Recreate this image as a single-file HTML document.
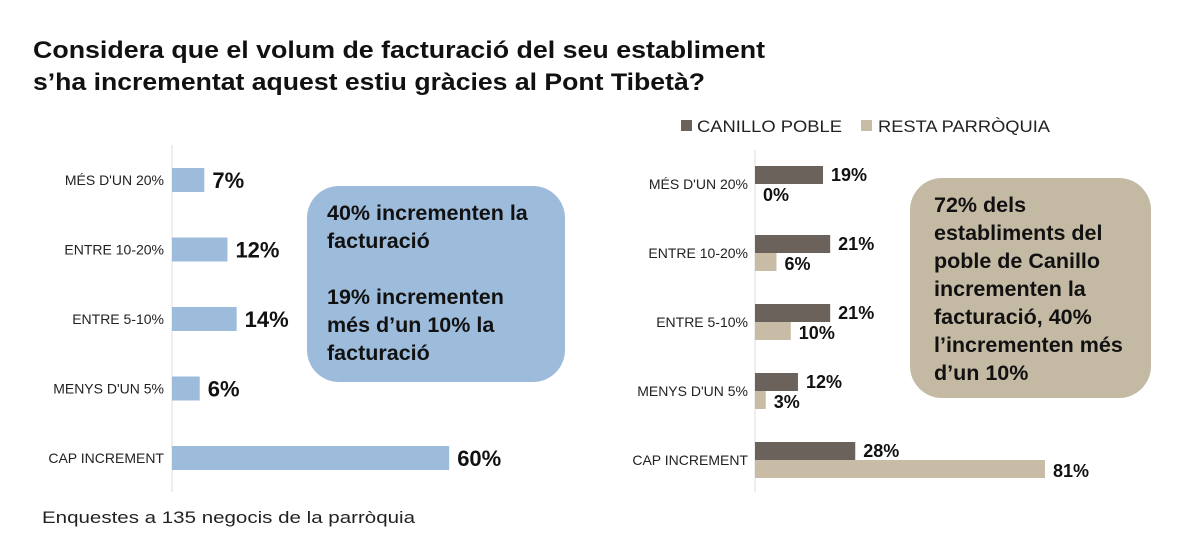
<!DOCTYPE html>
<html><head><meta charset="utf-8"><style>
body{margin:0;background:#fff;width:1200px;height:557px;overflow:hidden}
svg{display:block;font-family:"Liberation Sans",sans-serif}
</style></head><body>
<svg id="c" width="1200" height="557">
<text x="33" y="58" font-size="24" font-weight="bold" fill="#111" textLength="732" lengthAdjust="spacingAndGlyphs">Considera que el volum de facturació del seu establiment</text>
<text x="33" y="90" font-size="24" font-weight="bold" fill="#111" textLength="672" lengthAdjust="spacingAndGlyphs">s’ha incrementat aquest estiu gràcies al Pont Tibetà?</text>
<rect x="681" y="120" width="11" height="11" fill="#6b625b"/>
<text x="697" y="132" font-size="17" fill="#222" textLength="145" lengthAdjust="spacingAndGlyphs">CANILLO POBLE</text>
<rect x="861" y="120" width="11" height="11" fill="#c8bca6"/>
<text x="878" y="132" font-size="17" fill="#222" textLength="172" lengthAdjust="spacingAndGlyphs">RESTA PARRÒQUIA</text>
<line x1="172" y1="145" x2="172" y2="492" stroke="#ddd"/>
<line x1="755" y1="150" x2="755" y2="492" stroke="#ddd"/>
<g id="left"></g><g id="right"></g>
<rect x="307" y="186" width="258" height="196" rx="32" fill="#9dbcdc"/>
<g font-size="21.5" font-weight="bold" fill="#111">
<text x="327" y="220">40% incrementen la</text>
<text x="327" y="248">facturació</text>
<text x="327" y="304">19% incrementen</text>
<text x="327" y="332">més d’un 10% la</text>
<text x="327" y="360">facturació</text></g>
<rect x="910" y="178" width="241" height="220" rx="32" fill="#c4b9a3"/>
<g font-size="21.5" font-weight="bold" fill="#111">
<text x="934" y="212">72% dels</text>
<text x="934" y="240">establiments del</text>
<text x="934" y="268">poble de Canillo</text>
<text x="934" y="296">incrementen la</text>
<text x="934" y="324">facturació, 40%</text>
<text x="934" y="352">l’incrementen més</text>
<text x="934" y="380">d’un 10%</text></g>
<text x="42" y="523" font-size="17" fill="#222" textLength="373" lengthAdjust="spacingAndGlyphs">Enquestes a 135 negocis de la parròquia</text>
</svg>
<script>
const categories=["MÉS D'UN 20%","ENTRE 10-20%","ENTRE 5-10%","MENYS D'UN 5%","CAP INCREMENT"];
const totalValues=[7,12,14,6,60];
const canilloValues=[19,21,21,12,28];
const restaValues=[0,6,10,3,81];
const NS="http://www.w3.org/2000/svg";
function mk(p,t,a,txt){const e=document.createElementNS(NS,t);for(const k in a)e.setAttribute(k,a[k]);if(txt!==undefined)e.textContent=txt;p.appendChild(e);return e;}
const xL=v=>v*4.62, yL=i=>180+i*69.5;
const xR=v=>v*3.58, yR=i=>184+i*69;
const L=document.getElementById('left'),R=document.getElementById('right');
categories.forEach((c,i)=>{
 let t=mk(L,'text',{x:164,y:yL(i)+5,'font-size':14,'text-anchor':'end',fill:'#222'},c);
 
 
 let b=mk(L,'rect',{x:172,y:yL(i)-12,width:xL(totalValues[i]),height:24,fill:'#9dbcdc'});
 
 
 let v=mk(L,'text',{x:172+xL(totalValues[i])+8,y:yL(i)+8,'font-size':22,'font-weight':'bold',fill:'#111'},totalValues[i]+'%');
 
 
 let t2=mk(R,'text',{x:748,y:yR(i)+5,'font-size':14,'text-anchor':'end',fill:'#222'},c);
 
 
 let b1=mk(R,'rect',{x:755,y:yR(i)-18,width:xR(canilloValues[i]),height:18,fill:'#6b625b'});
 
 
 let v1=mk(R,'text',{x:755+xR(canilloValues[i])+8,y:yR(i)-3,'font-size':18,'font-weight':'bold',fill:'#111'},canilloValues[i]+'%');
 
 
 let b2=mk(R,'rect',{x:755,y:yR(i),width:xR(restaValues[i]),height:18,fill:'#c8bca6'});
 
 
 let v2=mk(R,'text',{x:755+xR(restaValues[i])+8,y:yR(i)+17,'font-size':18,'font-weight':'bold',fill:'#111'},restaValues[i]+'%');
 
 
});
</script>
</body></html>
